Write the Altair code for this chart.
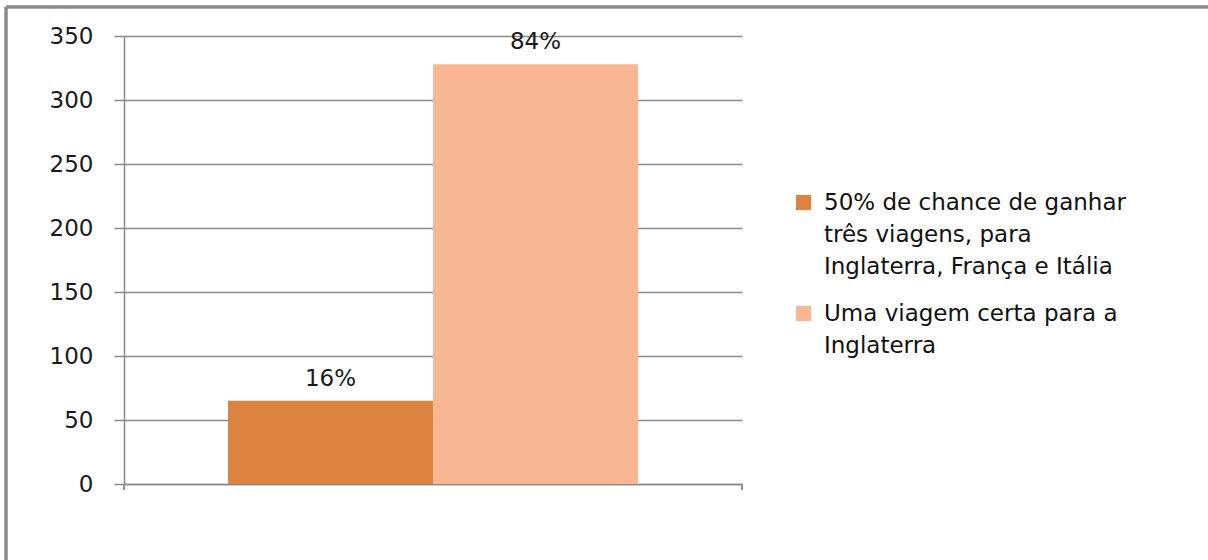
import altair as alt
import pandas as pd

series = [
    "50% de chance de ganhar|três viagens, para|Inglaterra, França e Itália",
    "Uma viagem certa para a|Inglaterra",
]
values = [65, 328]
labels = ["16%", "84%"]
colors = ["#DB833F", "#F8B692"]
y_ticks = [0, 50, 100, 150, 200, 250, 300, 350]

df = pd.DataFrame({"serie": series, "valor": values, "rotulo": labels})

W, H = 618, 448
GRAY = "#8a8a8a"

x = alt.X(
    "serie:N",
    sort=series,
    scale=alt.Scale(paddingInner=0, paddingOuter=0.507),
    axis=alt.Axis(labels=False, ticks=False, title=None, domainColor=GRAY, domainWidth=1.5),
)
y = alt.Y(
    "valor:Q",
    scale=alt.Scale(domain=[0, 350], nice=False),
    axis=alt.Axis(
        values=y_ticks,
        title=None,
        tickSize=10,
        tickColor=GRAY,
        tickWidth=1.5,
        gridColor=GRAY,
        gridWidth=1.5,
        domainColor=GRAY,
        domainWidth=1.5,
        labelFont="DejaVu Sans",
        labelFontSize=23,
        labelColor="#1a1a1a",
        labelPadding=21,
    ),
)

color = alt.Color(
    "serie:N",
    sort=series,
    scale=alt.Scale(domain=series, range=colors),
    legend=alt.Legend(
        title=None,
        orient="none",
        legendX=668,
        legendY=155,
        symbolType="square",
        symbolSize=230,
        symbolStrokeWidth=0,
        labelFont="DejaVu Sans",
        labelFontSize=23,
        labelColor="#111111",
        labelLimit=500,
        labelOffset=9,
        rowPadding=23,
        labelExpr="split(datum.label, '|')",
    ),
)

bars = alt.Chart(df).mark_bar(size=205).encode(x=x, y=y, color=color)

text = alt.Chart(df).mark_text(
    baseline="bottom", dy=-10, font="DejaVu Sans", fontSize=23, color="#1a1a1a"
).encode(x=alt.X("serie:N", sort=series), y="valor:Q", text="rotulo:N")

ticks_l = alt.Chart(df).mark_rule(color=GRAY, strokeWidth=1.5, clip=False).encode(
    x=alt.value(0), y=alt.value(H), y2=alt.value(H + 6)
)
ticks_r = alt.Chart(df).mark_rule(color=GRAY, strokeWidth=1.5, clip=False).encode(
    x=alt.value(W), y=alt.value(H), y2=alt.value(H + 6)
)
frame_top = alt.Chart(df).mark_rule(color=GRAY, strokeWidth=3, clip=False).encode(
    x=alt.value(-118), x2=alt.value(1100), y=alt.value(-29)
)
frame_left = alt.Chart(df).mark_rule(color=GRAY, strokeWidth=3, clip=False).encode(
    x=alt.value(-118), y=alt.value(-29), y2=alt.value(560)
)

chart = (
    alt.layer(bars, text, ticks_l, ticks_r, frame_top, frame_left)
    .properties(
        width=W,
        height=H,
        autosize=alt.AutoSizeParams(type="none"),
        padding={"left": 124, "top": 36, "right": 466, "bottom": 76},
        background="white",
    )
    .configure(style={"guide-label": {"lineHeight": 32}})
    .configure_view(stroke=None)
)

chart.save("out.html", embed_options={"renderer": "svg", "actions": False})
